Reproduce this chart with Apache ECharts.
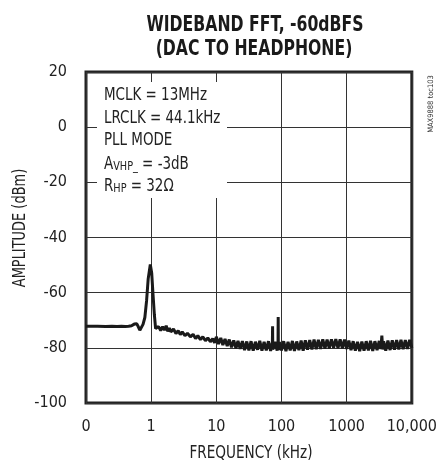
<!DOCTYPE html>
<html><head><meta charset="utf-8">
<script src="https://cdn.jsdelivr.net/npm/echarts@6/dist/echarts.min.js"></script>
<style>html,body{margin:0;padding:0;background:#fff}#c{width:440px;height:463px}</style>
</head><body><div id="c"></div>
<script>
var titleLines = ['WIDEBAND FFT, -60dBFS', '(DAC TO HEADPHONE)'];
var xAxisName = 'FREQUENCY (kHz)';
var yAxisName = 'AMPLITUDE (dBm)';
var xTickValues = [0.1, 1, 10, 100, 1000, 10000];
var xTickLabels = ['0', '1', '10', '100', '1000', '10,000'];
var yTicks = [-100, -80, -60, -40, -20, 0, 20];
var freqKHz = [
  0.1, 0.15, 0.2, 0.25, 0.3, 0.35, 0.4, 0.45, 0.5, 0.55, 0.6, 0.63, 0.67, 0.7, 0.75,
  0.8, 0.85, 0.9, 0.97, 1.02, 1.07, 1.12, 1.17,
  1.2, 1.3, 1.4, 1.5, 1.6, 1.7, 1.8, 1.9, 2.0, 2.2, 2.4, 2.6, 2.8, 3.0, 3.3, 3.6, 4.0, 4.4, 4.8,
  5.2, 5.7, 6.2, 6.8, 7.4, 8.1, 8.8, 9.4,
  10, 10.8, 11.7, 12.6, 13.6, 14.7, 15.8, 17.1, 18.5, 20, 21.5, 23.2, 25.1, 27.1, 29.3, 31.6, 34.1,
  36.8, 39.8, 43, 46.4, 50.1, 54.1, 58.4, 63.1, 68.1, 72.5, 73, 73.5, 79.4, 85.8, 88.5, 89, 89.5, 92.7,
  100, 108, 117, 126, 136, 147, 158, 171, 185, 200, 215, 232, 251, 271, 293, 316, 341, 368, 398, 430,
  464, 501, 541, 584, 631, 681, 736, 794, 858, 926, 1000,
  1080, 1166, 1259, 1359, 1468, 1585, 1711, 1848, 1995, 2154, 2326, 2512, 2712, 2929, 3162, 3350,
  3467, 3580, 3690, 3981, 4299, 4642, 5012, 5412, 5843, 6310, 6813, 7356, 7943, 8577, 9261, 10000
];
var ampDbm = [
  -72.2, -72.2, -72.3, -72.2, -72.3, -72.2, -72.3, -72.2, -72.0, -71.4, -71.3, -72.2, -73.6, -73.2, -71.5,
  -69, -63, -55, -49.8, -53, -61, -68, -73.0,
  -72.6, -72.3, -73.7, -72.3, -73.6, -72.0, -74.0, -72.8, -74.2, -73.2, -74.8, -73.8, -75.2, -74.2, -75.6, -74.7, -76.0, -75.1, -76.6,
  -75.6, -77.0, -76.0, -77.4, -76.4, -77.8, -76.7, -78.2,
  -76.0, -78.6, -76.4, -79.0, -76.8, -79.4, -77.0, -79.8, -77.3, -80.2, -77.5, -80.4, -77.6, -80.8, -77.7, -80.9, -77.6,
  -81.0, -77.8, -80.7, -77.5, -81.0, -77.8, -80.9, -77.6, -81.1, -78.0, -72.2, -80.6, -77.8, -81.0, -78.0, -68.8, -80.8, -77.9,
  -80.9, -77.6, -81.2, -77.8, -80.9, -77.5, -81.1, -77.7, -80.8, -77.4, -81.0, -77.3, -80.7, -77.2, -80.6, -77.0, -80.5, -77.1, -80.4, -76.9,
  -80.3, -77.0, -80.2, -76.9, -80.0, -76.8, -80.1, -76.9, -80.2, -77.0, -80.4,
  -77.4, -80.8, -77.6, -81.0, -77.8, -81.2, -77.7, -81.0, -77.6, -80.9, -77.5, -81.1, -77.6, -80.8, -77.5, -80.4,
  -75.6, -80.6, -77.6, -81.0, -77.4, -80.8, -77.3, -80.7, -77.2, -80.6, -77.1, -80.5, -77.2, -80.4, -77.1, -80.0
];
var noteLines = ['MCLK = 13MHz', 'LRCLK = 44.1kHz', 'PLL MODE'];
var noteGain = ['A', 'VHP_', ' = -3dB'];
var noteLoad = ['R', 'HP', ' = 32Ω'];
var tocLabel = 'MAX9888 toc103';

var FONT = "'DejaVu Sans Condensed', 'DejaVu Sans', sans-serif";
var chart = echarts.init(document.getElementById('c'));
var pts = freqKHz.map(function (f, i) { return [f, ampDbm[i]]; });

function txt(o) {
  return {
    type: 'text', z: 101, x: o.x, y: o.y, scaleX: o.sx || 1, rotation: o.rot || 0,
    style: {
      text: o.text, fontFamily: FONT, fontSize: o.size, fontWeight: o.bold ? 'bold' : 'normal',
      fill: o.color || '#222', align: o.align || 'left', verticalAlign: 'middle', rich: o.rich
    }
  };
}
var subRich = {
  m: { fontFamily: FONT, fontSize: 18, fill: '#222', verticalAlign: 'bottom', lineHeight: 20 },
  s: { fontFamily: FONT, fontSize: 13, fill: '#222', verticalAlign: 'bottom', lineHeight: 20 }
};

chart.setOption({
  animation: false,
  backgroundColor: '#fff',
  grid: { left: 86, right: 23, top: 72, bottom: 60, show: true, borderColor: '#222', borderWidth: 3, backgroundColor: 'transparent' },
  xAxis: {
    type: 'log', logBase: 10, min: 0.1, max: 10000,
    axisLine: { show: false }, axisTick: { show: false },
    axisLabel: {
      margin: 16, fontFamily: FONT, fontSize: 16, color: '#222',
      formatter: function (v) {
        for (var i = 0; i < xTickValues.length; i++) {
          if (Math.abs(Math.log10(v) - Math.log10(xTickValues[i])) < 1e-6) return xTickLabels[i];
        }
        return '';
      }
    },
    splitLine: { show: true, lineStyle: { color: '#333', width: 1 } }
  },
  yAxis: {
    type: 'value', min: yTicks[0], max: yTicks[yTicks.length - 1], interval: 20,
    axisLine: { show: false }, axisTick: { show: false },
    axisLabel: { margin: 19, fontFamily: FONT, fontSize: 16, color: '#222' },
    splitLine: { show: true, lineStyle: { color: '#333', width: 1 } }
  },
  series: [{
    type: 'line', data: pts, showSymbol: false, symbol: 'none',
    lineStyle: { color: '#1a1a1a', width: 3 }, z: 5
  }],
  graphic: [
    txt({ text: titleLines[0], x: 255, y: 26, size: 20.5, bold: true, sx: 0.85, align: 'center', color: '#1a1a1a' }),
    txt({ text: titleLines[1], x: 254, y: 49.5, size: 20.5, bold: true, sx: 0.85, align: 'center', color: '#1a1a1a' }),
    { type: 'rect', z: 100, shape: { x: 97, y: 82, width: 130, height: 116 }, style: { fill: '#fff' } },
    txt({ text: noteLines[0], x: 104, y: 95.3, size: 18, sx: 0.83 }),
    txt({ text: noteLines[1], x: 104, y: 118.5, size: 18, sx: 0.83 }),
    txt({ text: noteLines[2], x: 104, y: 140.2, size: 18, sx: 0.83 }),
    txt({ text: '{m|' + noteGain[0] + '}{s|' + noteGain[1] + '}{m|' + noteGain[2] + '}', x: 104, y: 163.5, size: 18, sx: 0.83, rich: subRich }),
    txt({ text: '{m|' + noteLoad[0] + '}{s|' + noteLoad[1] + '}{m|' + noteLoad[2] + '}', x: 104, y: 185.2, size: 18, sx: 0.83, rich: subRich }),
    txt({ text: xAxisName, x: 251, y: 453.3, size: 18, sx: 0.84, align: 'center' }),
    txt({ text: yAxisName, x: 20, y: 228, size: 18, sx: 0.8, align: 'center', rot: Math.PI / 2 }),
    txt({ text: tocLabel, x: 431, y: 104, size: 7.5, align: 'center', rot: Math.PI / 2, color: '#333' })
  ]
});
</script></body></html>
